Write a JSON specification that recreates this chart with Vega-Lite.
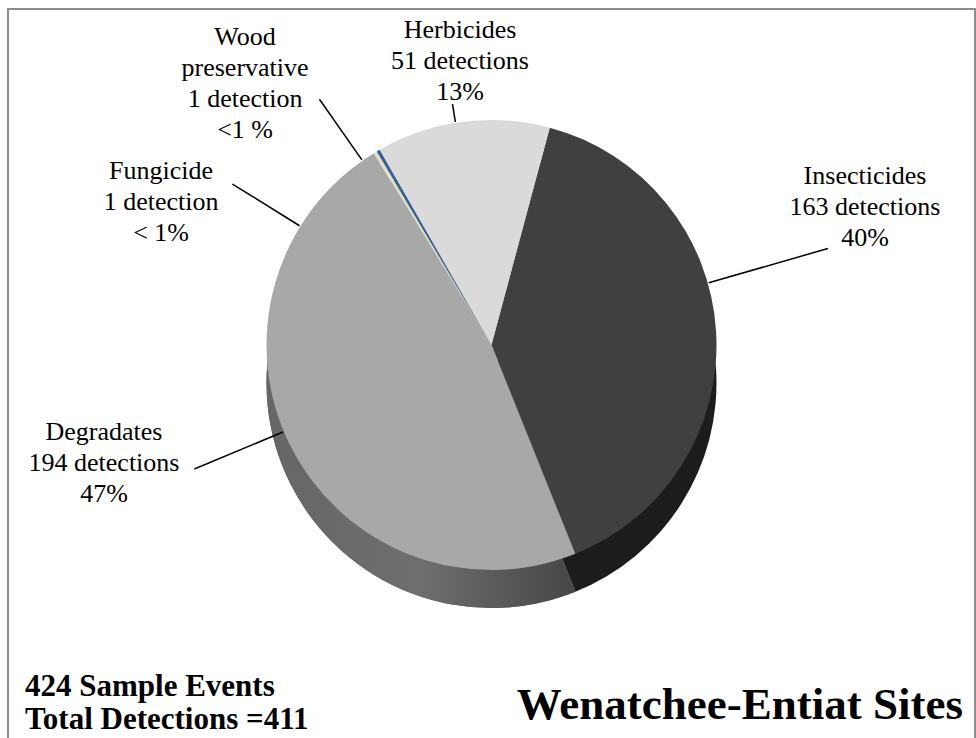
{
  "$schema": "https://vega.github.io/schema/vega-lite/v6.json",
  "width": 976,
  "height": 738,
  "autosize": {"type": "fit", "contains": "padding"},
  "padding": {"left": 8, "top": 9, "right": 1, "bottom": -3},
  "background": "white",
  "view": {"stroke": "#8c8c8c", "strokeWidth": 2},
  "config": {"view": {"stroke": "#8c8c8c", "strokeWidth": 2}, "text": {"font": "Liberation Serif"}},
  "layer": [
    {
      "data": {"values": [
        {"category": "Insecticides", "count": 163, "order": 1, "label": ["Insecticides", "163 detections", "40%"]},
        {"category": "Degradates", "count": 194, "order": 2, "label": ["Degradates", "194 detections", "47%"]},
        {"category": "Fungicide", "count": 1, "order": 3, "label": ["Fungicide", "1 detection", "< 1%"]},
        {"category": "Wood preservative", "count": 1, "order": 4, "label": ["Wood", "preservative", "1 detection", "<1 %"]},
        {"category": "Herbicides", "count": 51, "order": 5, "label": ["Herbicides", "51 detections", "13%"]}
      ]},
      "transform": [{"stack": "count", "groupby": [], "sort": [{"field": "order", "order": "ascending"}], "as": ["t0", "t1"]}],
      "layer": [
        {
          "mark": {"type": "arc", "radius": 225, "yOffset": 8},
          "encoding": {
            "theta": {"field": "t0", "type": "quantitative", "stack": null, "scale": {"domain": [0, 410], "range": [0.2618, 6.545]}},
            "theta2": {"field": "t1"},
            "fill": {"field": "category", "type": "nominal", "legend": null,
              "scale": {"domain": ["Insecticides", "Degradates", "Fungicide", "Wood preservative", "Herbicides"],
                        "range": ["#1c1c1c", "#626262", "#b5b29f", "#1f4468", "#a9a9a9"]}}
          }
        },
        {
          "transform": [{"filter": "datum.category === 'Degradates'"}],
          "mark": {"type": "arc", "radius": 225, "yOffset": 8,
            "fill": {"gradient": "linear", "x1": 0, "y1": 0, "x2": 1, "y2": 0,
              "stops": [{"offset": 0, "color": "#666666"}, {"offset": 0.5, "color": "#6e6e6e"}, {"offset": 1, "color": "#464646"}]}},
          "encoding": {
            "theta": {"field": "t0", "type": "quantitative", "stack": null, "scale": {"domain": [0, 410], "range": [0.2618, 6.545]}},
            "theta2": {"field": "t1"}
          }
        },
        {
          "mark": {"type": "arc", "radius": 225, "yOffset": -30},
          "encoding": {
            "theta": {"field": "t0", "type": "quantitative", "stack": null, "scale": {"domain": [0, 410], "range": [0.2618, 6.545]}},
            "theta2": {"field": "t1"},
            "color": {"field": "category", "type": "nominal", "legend": null,
              "scale": {"domain": ["Insecticides", "Degradates", "Fungicide", "Wood preservative", "Herbicides"],
                        "range": ["#404040", "#a8a8a8", "#e2dfc6", "#2f6197", "#dadada"]}}
          }
        },
        {
          "transform": [{"filter": "datum.category === 'Insecticides'"}],
          "mark": {"type": "arc", "outerRadius": 350, "innerRadius": 226, "thetaOffset": 1.0297, "theta2Offset": 1.0297, "yOffset": -30, "filled": false, "stroke": "#000000", "strokeWidth": 1.5},
          "encoding": {
            "theta": {"field": "t0", "type": "quantitative", "stack": null, "scale": {"domain": [0, 410], "range": [0.2618, 6.545]}},
            "theta2": {"field": "t0"}
          }
        },
        {
          "transform": [{"filter": "datum.category === 'Degradates'"}],
          "mark": {"type": "arc", "outerRadius": 322, "innerRadius": 226, "thetaOffset": 1.5574, "theta2Offset": 1.5574, "yOffset": -30, "filled": false, "stroke": "#000000", "strokeWidth": 1.5},
          "encoding": {
            "theta": {"field": "t0", "type": "quantitative", "stack": null, "scale": {"domain": [0, 410], "range": [0.2618, 6.545]}},
            "theta2": {"field": "t0"}
          }
        },
        {
          "transform": [{"filter": "datum.category === 'Fungicide'"}],
          "mark": {"type": "arc", "outerRadius": 305, "innerRadius": 226, "thetaOffset": -0.4646, "theta2Offset": -0.4646, "yOffset": -30, "filled": false, "stroke": "#000000", "strokeWidth": 1.5},
          "encoding": {
            "theta": {"field": "t0", "type": "quantitative", "stack": null, "scale": {"domain": [0, 410], "range": [0.2618, 6.545]}},
            "theta2": {"field": "t0"}
          }
        },
        {
          "transform": [{"filter": "datum.category === 'Wood preservative'"}],
          "mark": {"type": "arc", "outerRadius": 300, "innerRadius": 226, "thetaOffset": -0.0757, "theta2Offset": -0.0757, "yOffset": -30, "filled": false, "stroke": "#000000", "strokeWidth": 1.5},
          "encoding": {
            "theta": {"field": "t0", "type": "quantitative", "stack": null, "scale": {"domain": [0, 410], "range": [0.2618, 6.545]}},
            "theta2": {"field": "t0"}
          }
        },
        {
          "transform": [{"filter": "datum.category === 'Herbicides'"}],
          "mark": {"type": "arc", "outerRadius": 244, "innerRadius": 226, "thetaOffset": 0.3592, "theta2Offset": 0.3592, "yOffset": -30, "filled": false, "stroke": "#000000", "strokeWidth": 1.5},
          "encoding": {
            "theta": {"field": "t0", "type": "quantitative", "stack": null, "scale": {"domain": [0, 410], "range": [0.2618, 6.545]}},
            "theta2": {"field": "t0"}
          }
        },
        {
          "transform": [{"filter": "datum.category === 'Insecticides'"}],
          "mark": {"type": "text", "radius": 423.4, "thetaOffset": 0.8184, "align": "center", "baseline": "middle", "fontSize": 26, "lineHeight": 31, "font": "Liberation Serif", "color": "#000000"},
          "encoding": {
            "theta": {"field": "t0", "type": "quantitative", "stack": null, "scale": {"domain": [0, 410], "range": [0.2618, 6.545]}},
            "text": {"field": "label"}
          }
        },
        {
          "transform": [{"filter": "datum.category === 'Degradates'"}],
          "mark": {"type": "text", "radius": 391.6, "thetaOffset": 1.8078, "align": "center", "baseline": "middle", "fontSize": 26, "lineHeight": 31, "font": "Liberation Serif", "color": "#000000"},
          "encoding": {
            "theta": {"field": "t0", "type": "quantitative", "stack": null, "scale": {"domain": [0, 410], "range": [0.2618, 6.545]}},
            "text": {"field": "label"}
          }
        },
        {
          "transform": [{"filter": "datum.category === 'Fungicide'"}],
          "mark": {"type": "text", "radius": 388.1, "thetaOffset": -0.4684, "align": "center", "baseline": "middle", "fontSize": 26, "lineHeight": 31, "font": "Liberation Serif", "color": "#000000"},
          "encoding": {
            "theta": {"field": "t0", "type": "quantitative", "stack": null, "scale": {"domain": [0, 410], "range": [0.2618, 6.545]}},
            "text": {"field": "label"}
          }
        },
        {
          "transform": [{"filter": "datum.category === 'Wood preservative'"}],
          "mark": {"type": "text", "radius": 418.7, "thetaOffset": -0.0942, "align": "center", "baseline": "middle", "fontSize": 26, "lineHeight": 31, "font": "Liberation Serif", "color": "#000000"},
          "encoding": {
            "theta": {"field": "t0", "type": "quantitative", "stack": null, "scale": {"domain": [0, 410], "range": [0.2618, 6.545]}},
            "text": {"field": "label"}
          }
        },
        {
          "transform": [{"filter": "datum.category === 'Herbicides'"}],
          "mark": {"type": "text", "radius": 346.9, "thetaOffset": 0.4288, "align": "center", "baseline": "middle", "fontSize": 26, "lineHeight": 31, "font": "Liberation Serif", "color": "#000000"},
          "encoding": {
            "theta": {"field": "t0", "type": "quantitative", "stack": null, "scale": {"domain": [0, 410], "range": [0.2618, 6.545]}},
            "text": {"field": "label"}
          }
        }
      ]
    },
    {
      "data": {"values": [{"t": ["424 Sample Events", "Total Detections =411"]}]},
      "mark": {"type": "text", "align": "left", "baseline": "alphabetic", "x": 17, "y": {"expr": "height - 45"}, "fontSize": 31, "fontWeight": "bold", "lineHeight": 33, "font": "Liberation Serif", "color": "#000000"},
      "encoding": {"text": {"field": "t"}}
    },
    {
      "data": {"values": [{"t": "Wenatchee-Entiat Sites"}]},
      "mark": {"type": "text", "align": "right", "baseline": "alphabetic", "x": {"expr": "width - 12"}, "y": {"expr": "height - 22"}, "fontSize": 45, "fontWeight": "bold", "font": "Liberation Serif", "color": "#000000"},
      "encoding": {"text": {"field": "t"}}
    }
  ]
}
